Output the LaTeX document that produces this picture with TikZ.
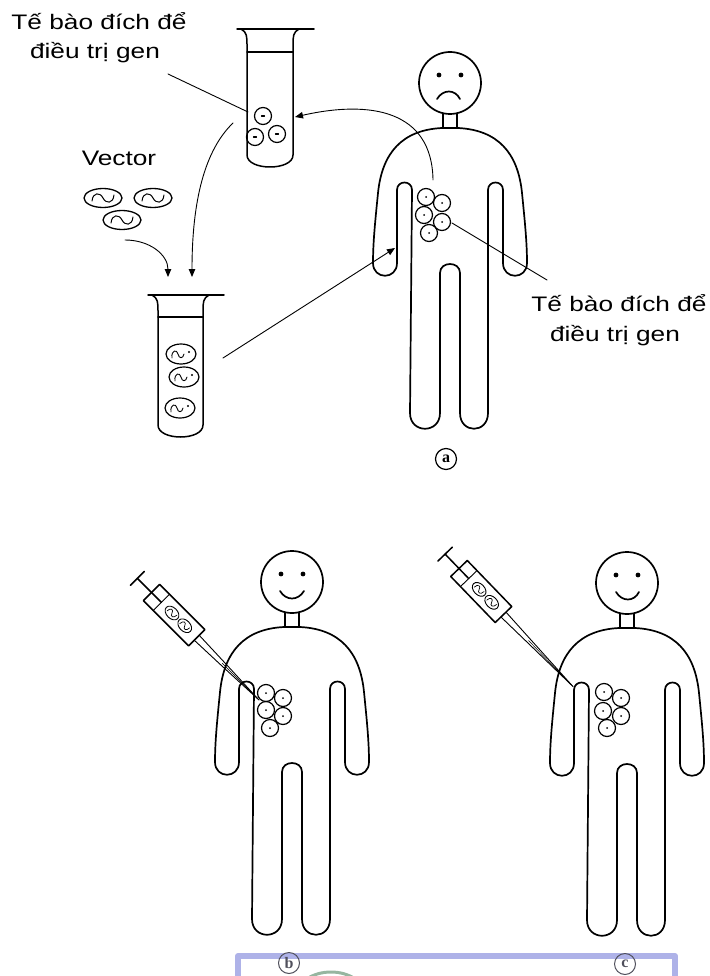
\documentclass[tikz,border=0pt]{standalone}
\usepackage{fontspec}
\setmainfont{Liberation Sans}
\newfontfamily\letterfont{Liberation Serif}
\usepackage{graphicx}
\usetikzlibrary{arrows.meta,shapes.geometric}

\definecolor{bandblue}{RGB}{174,178,232}
\definecolor{palegreen}{RGB}{150,182,160}
\definecolor{lettergray}{RGB}{80,80,92}

% outline of a standing figure; #1,#2 = centre of the neck base, #3 = where the legs start to round off
\newcommand\humanfigure[3]{%
  \begin{scope}[shift={(#1,#2)}]
    \draw[bodyline] (0,-45) circle[radius=31];
    \fill (-11,-53) circle[radius=2.4] (11,-53) circle[radius=2.4];
    \draw[bodyline] (-7,-14) -- (-7,0) (7,-14) -- (7,0);
    \draw[bodyline] (-8,0) .. controls (-48,2) and (-68,25) .. (-72,65)
      .. controls (-75,95) and (-77,115) .. (-77,135)
      .. controls (-77,152) and (-53,152) .. (-53,135) -- (-53,62)
      .. controls (-53,52) and (-38,52) .. (-38,62) -- (-40,#3)
      .. controls (-40,#3+21) and (-10,#3+21) .. (-10,#3) -- (-10,145)
      .. controls (-10,133) and (10,133) .. (10,145) -- (10,#3)
      .. controls (10,#3+21) and (38,#3+21) .. (38,#3) -- (38,62)
      .. controls (38,52) and (53,52) .. (53,62) -- (53,135)
      .. controls (53,152) and (77,152) .. (77,135)
      .. controls (77,115) and (75,95) .. (72,65)
      .. controls (68,25) and (48,2) .. (8,0) -- cycle;
  \end{scope}}

% test tube; #1 = centre x, #2 = rim y, #3 = half width, #4 = bottom y, #5 = liquid level
\newcommand\testtube[5]{%
  \draw[tubeline] (#1-#3-10,#2) -- (#1+#3+21,#2);
  \draw[tubeline] (#1-#3-6,#2) .. controls (#1-#3,#2+3) and (#1-#3,#2+8) .. (#1-#3,#2+16)
    -- (#1-#3,#4-12) .. controls (#1-#3,#4+4) and (#1+#3,#4+4) .. (#1+#3,#4-12)
    -- (#1+#3,#2+16) .. controls (#1+#3,#2+8) and (#1+#3,#2+3) .. (#1+#3+6,#2);
  \draw[tubeline] (#1-#3,#5) -- (#1+#3,#5);}

% syringe; #1,#2 = back end of the barrel, #3 = rotation, #4 = needle tip distance
\newcommand\syringe[4]{%
  \begin{scope}[shift={(#1,#2)}, rotate=#3]
    \draw[tubeline] (0,-11.5) rectangle (64,11.5);
    \draw[thinline] (14,-11.5) -- (14,11.5);
    \draw[tubeline] (-20,0) -- (14,0);
    \draw[tubeline] (-20,-10) -- (-20,10);
    \foreach \p in {29,47}{
      \draw[thinline] (\p,0) ellipse[x radius=8, y radius=5.5];
      \draw[line width=0.7pt] (\p-5,2) .. controls (\p-5,-3) and (\p-1,-4) .. (\p,0)
        .. controls (\p+1,4) and (\p+5,3) .. (\p+5,-2);}
    \draw[thinline] (64,-3.5) -- (100,-2.2) -- (#4,0) -- (100,2.2) -- (64,3.5);
    \draw[line width=0.5pt] (100,0) -- (#4,0);
  \end{scope}}

\begin{document}
\begin{tikzpicture}[x=1pt,y=-1pt, line join=round, line cap=round,
  bodyline/.style={line width=1.7pt},
  tubeline/.style={line width=1.5pt},
  thinline/.style={line width=0.9pt},
  arr/.style={thinline, -{Triangle[length=8pt,width=6.5pt]}},
  cell/.style={circle, draw, line width=1.2pt, minimum size=17pt, inner sep=0pt},
  vec/.style={ellipse, draw, line width=1.3pt, minimum width=38pt, minimum height=19pt, inner sep=0pt},
  cargo/.style={ellipse, draw, line width=1.2pt, minimum width=30pt, minimum height=20pt, inner sep=0pt},
  lbl/.style={anchor=base, inner sep=0pt, font=\fontsize{21}{25}\selectfont},
  tag/.style={circle, draw, inner sep=0pt, minimum size=21pt},
]
\useasboundingbox (0,0) rectangle (709,976);

% frame band and arc at the foot of the page
\begin{scope}
  \clip (0,0) rectangle (709,976);
  \draw[bandblue, line width=6pt] (238,956) rectangle (675,1010);
  \draw[palegreen, line width=3pt] (331,994) ellipse[x radius=33, y radius=22];
\end{scope}

% ---------- panel a ----------
\node[lbl] (lab1a) at (99,30) {\scalebox{1.25}[1]{Tế bào đích để}};
\node[lbl] (lab1b) at (95,59) {\scalebox{1.25}[1]{điều trị gen}};
\node[lbl] (vlab) at (119,166) {\scalebox{1.25}[1]{Vector}};
\node[lbl] (lab2a) at (619,311) {\scalebox{1.25}[1]{Tế bào đích để}};
\node[lbl] (lab2b) at (615,341) {\scalebox{1.25}[1]{điều trị gen}};

\testtube{270}{29}{23}{167}{52}
\node[cell] (t1) at (263,116) {};
\node[cell] (t2) at (255,137) {};
\node[cell] (t3) at (277,134) {};
\foreach \c in {t1,t2,t3} \draw[line width=1.3pt] ([xshift=-1.5pt]\c.center) -- ([xshift=1.5pt]\c.center);

\node[vec] (v1) at (103,198) {};
\node[vec] (v2) at (153,198) {};
\node[vec] (v3) at (122,220) {};
\foreach \v in {v1,v2,v3}{
  \begin{scope}[shift={(\v)}]
    \draw[line width=1pt] (-11,3) .. controls (-10,-6) and (-3,-6) .. (0,0)
      .. controls (3,6) and (10,6) .. (11,-3);
  \end{scope}}

\testtube{180.5}{295}{22.5}{437}{317}
\node[cargo] (e1) at (181,354) {};
\node[cargo] (e2) at (184,377) {};
\node[cargo] (e3) at (180,408) {};
\foreach \e in {e1,e2,e3}{
  \begin{scope}[shift={(\e)}]
    \draw[line width=0.9pt] (-9,4) .. controls (-10,-4) and (-4,-5) .. (-3,0)
      .. controls (-2,5) and (2,5) .. (3,0);
    \fill (8,-2) circle[radius=1.1];
  \end{scope}}

\humanfigure{450}{128}{285}
\draw[bodyline] (437,99) .. controls (443,89) and (455,89) .. (460,99);
\node[cell] (a1) at (426,197) {};
\node[cell] (a2) at (442,203) {};
\node[cell] (a3) at (424,215) {};
\node[cell] (a4) at (442,222) {};
\node[cell] (a5) at (429,233) {};
\foreach \c in {a1,a2,a3,a4,a5} \fill (\c.center) circle[radius=1];
\node[tag, line width=1.2pt, font=\letterfont\bfseries\fontsize{16}{16}\selectfont] (taga) at (446,459) {a};

% connectors of panel a
\coordinate (p1) at (168,74);
\coordinate (p1e) at (248,112);
\draw[thinline] (p1) -- (p1e);
\coordinate (p2) at (452,223);
\coordinate (p2e) at (547,280);
\draw[thinline] (p2) -- (p2e);
\coordinate (fromcells) at (433,180);
\coordinate (tubeone) at (295,117);
\draw[arr] (fromcells) .. controls (432,110) and (370,100) .. (tubeone);
\coordinate (tubeoneout) at (233,123);
\coordinate (tubetwoin) at (192,277);
\draw[arr] (tubeoneout) .. controls (205,150) and (192,200) .. (tubetwoin);
\coordinate (vecout) at (125,240);
\coordinate (vecin) at (168,277);
\draw[arr] (vecout) .. controls (150,240) and (168,255) .. (vecin);
\coordinate (tubetwoout) at (223,358);
\coordinate (armin) at (395,248);
\draw[arr] (tubetwoout) -- (armin);

% ---------- panel b ----------
\humanfigure{292}{627}{292}
\draw[bodyline] (280,591) .. controls (286,601) and (298,601) .. (304,591);
\node[cell] (b1) at (266,693) {};
\node[cell] (b2) at (283,698) {};
\node[cell] (b3) at (266,710) {};
\node[cell] (b4) at (283,716) {};
\node[cell] (b5) at (270,728) {};
\foreach \c in {b1,b2,b3,b4,b5} \fill (\c.center) circle[radius=1];
\syringe{151.5}{592.5}{-45}{152}

% ---------- panel c ----------
\humanfigure{627}{628}{292}
\draw[bodyline] (616,592) .. controls (622,602) and (634,602) .. (639,592);
\node[cell] (c1) at (604,692) {};
\node[cell] (c2) at (621,698) {};
\node[cell] (c3) at (603,711) {};
\node[cell] (c4) at (621,716) {};
\node[cell] (c5) at (607,728) {};
\foreach \c in {c1,c2,c3,c4,c5} \fill (\c.center) circle[radius=1];
\syringe{459}{568.5}{-46}{164}

% panel tags
\node[tag, draw=lettergray, text=lettergray, line width=1pt, font=\letterfont\bfseries\fontsize{16}{16}\selectfont] (tagb) at (289,963) {b};
\node[tag, draw=lettergray, text=lettergray, line width=1pt, font=\letterfont\bfseries\fontsize{16}{16}\selectfont] (tagc) at (625,964) {c};
\end{tikzpicture}
\end{document}
